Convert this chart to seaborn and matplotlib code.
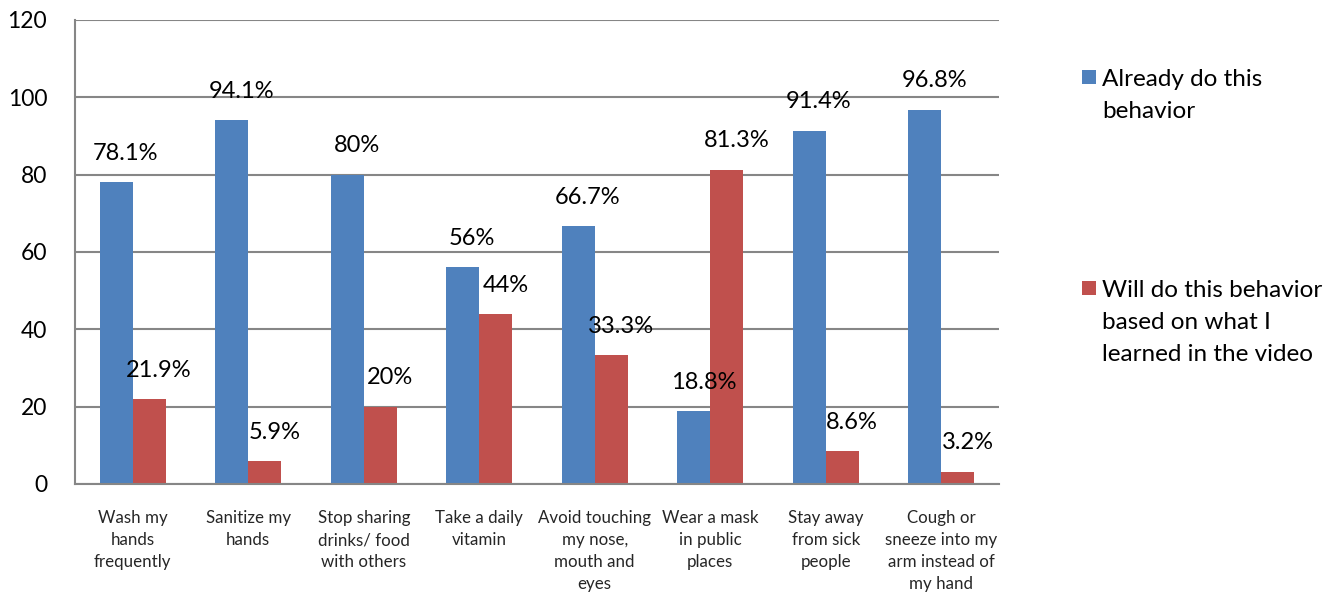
import matplotlib
matplotlib.use("Agg")
import matplotlib.pyplot as plt
from matplotlib.patches import Rectangle
import seaborn as sns
import pandas as pd

behaviors = [
    "Wash my\nhands\nfrequently",
    "Sanitize my\nhands",
    "Stop sharing\ndrinks/ food\nwith others",
    "Take a daily\nvitamin",
    "Avoid touching\nmy nose,\nmouth and\neyes",
    "Wear a mask\nin public\nplaces",
    "Stay away\nfrom sick\npeople",
    "Cough or\nsneeze into my\narm instead of\nmy hand",
]
already_do = [78.1, 94.1, 80, 56, 66.7, 18.8, 91.4, 96.8]
will_do = [21.9, 5.9, 20, 44, 33.3, 81.3, 8.6, 3.2]
series_names = ["Already do this\nbehavior",
                "Will do this behavior\nbased on what I\nlearned in the video"]
colors = ["#4F81BD", "#C0504D"]
y_ticks = [0, 20, 40, 60, 80, 100, 120]

sns.set_theme(style="white")
plt.rcParams["font.family"] = ["Lato", "DejaVu Sans"]

df = pd.DataFrame({
    "behavior": behaviors * 2,
    "value": already_do + will_do,
    "series": [series_names[0]] * len(behaviors) + [series_names[1]] * len(behaviors),
})

W, H = 1340, 595
fig = plt.figure(figsize=(W / 100, H / 100), dpi=100)
ax = fig.add_axes([75 / W, 1 - 484 / H, (999 - 75) / W, (484 - 20) / H])

sns.barplot(data=df, x="behavior", y="value", hue="series", order=behaviors,
            hue_order=series_names, palette=colors, width=0.575, gap=0,
            linewidth=0, saturation=1, legend=False, ax=ax)

ax.set_ylim(0, 120)
ax.set_xlim(-0.5, len(behaviors) - 0.5)
ax.set_yticks(y_ticks)
ax.set_yticklabels([str(t) for t in y_ticks], fontsize=16.5, color="#000000")
ax.tick_params(axis="y", length=0, pad=20)
ax.tick_params(axis="x", length=0, pad=19, labelsize=12.2)
for lbl in ax.get_xticklabels():
    lbl.set_linespacing(1.45)
ax.set_xlabel("")
ax.set_ylabel("")

ax.yaxis.grid(True, color="#868686", linewidth=1.5)
ax.set_axisbelow(True)
for side in ["top", "right"]:
    ax.spines[side].set_visible(False)
for side in ["left", "bottom"]:
    ax.spines[side].set_color("#868686")
    ax.spines[side].set_linewidth(1.5)

# value labels above every bar
for container in ax.containers:
    for bar in container:
        h = bar.get_height()
        ax.annotate(f"{h:g}%", (bar.get_x() + bar.get_width() / 2, h),
                    xytext=(7, 16), textcoords="offset points",
                    ha="center", va="baseline", fontsize=17, color="#000000")

# legend: square swatch beside the first line of each wrapped label
legend_tops = [70, 281]
for name, color, top in zip(series_names, colors, legend_tops):
    fig.add_artist(Rectangle((1082 / W, 1 - (top + 14) / H), 14 / W, 14 / H,
                             transform=fig.transFigure, facecolor=color,
                             edgecolor="none"))
    fig.text(1102 / W, 1 - (top - 1) / H, name, ha="left", va="top",
             fontsize=17.5, linespacing=1.65, color="#000000")

fig.savefig("out.png", dpi=100)
